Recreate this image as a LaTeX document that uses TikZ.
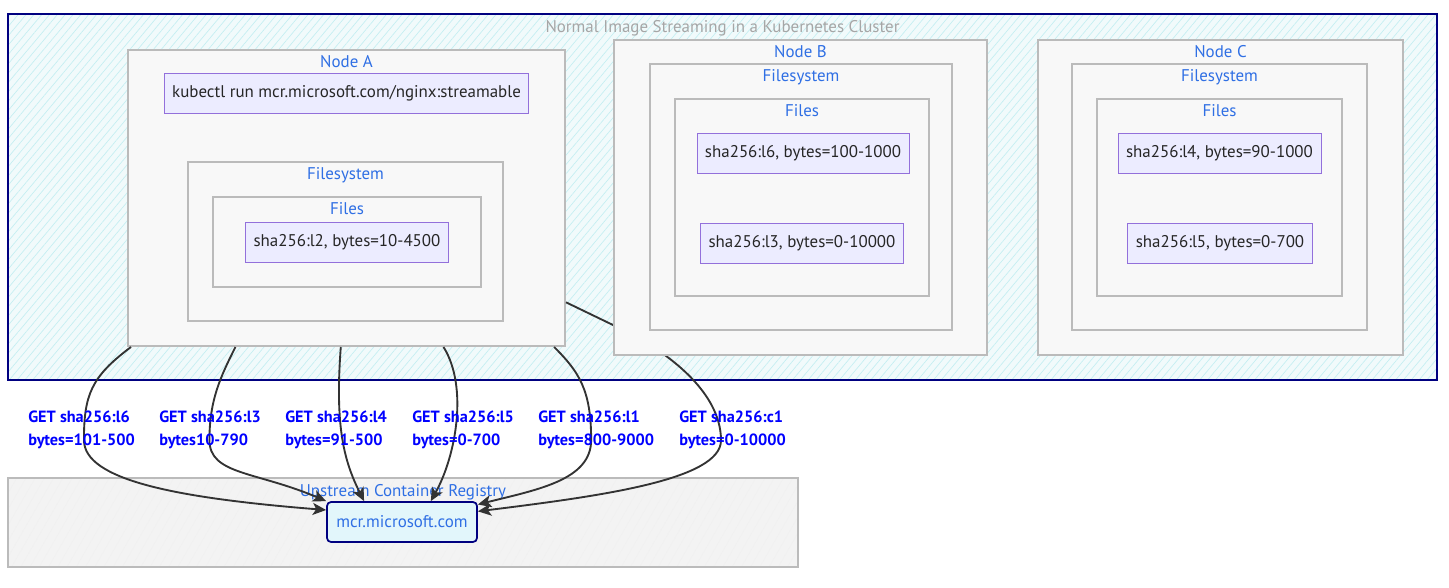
\documentclass[tikz,border=0pt]{standalone}
\usepackage{fontspec}
\setmainfont{PT Sans}
\usetikzlibrary{positioning,fit,calc,arrows.meta,patterns.meta}

\definecolor{clusterline}{HTML}{000080}
\definecolor{clusterfill}{HTML}{F1FAFB}
\definecolor{hatchcyan}{HTML}{C4EEF2}
\definecolor{hostline}{HTML}{BBBBBB}
\definecolor{hostfill}{HTML}{F8F8F8}
\definecolor{regfill}{HTML}{F3F3F3}
\definecolor{layerline}{HTML}{9370DB}
\definecolor{layerfill}{HTML}{ECECFF}
\definecolor{titleblue}{HTML}{2F6FE4}
\definecolor{edgeblue}{HTML}{0000FF}
\definecolor{mcrfill}{HTML}{E2F6FB}
\definecolor{arrowgray}{HTML}{333333}

\tikzset{
    cluster/.style={draw=clusterline, line width=1.2pt, inner sep=0pt,
        preaction={fill=clusterfill},
        pattern={Lines[angle=50,distance=4.5pt,line width=0.5pt]}, pattern color=hatchcyan},
    registry/.style={draw=hostline, line width=1.5pt, inner sep=0pt,
        preaction={fill=regfill},
        pattern={Lines[angle=60,distance=6pt,line width=0.3pt]}, pattern color=black!6},
    hostbox/.style={draw=hostline, line width=1.5pt, fill=hostfill, inner sep=0pt},
    layerbox/.style={draw=layerline, line width=0.6pt, fill=layerfill,
        inner xsep=6pt, minimum height=30pt, text=black!85},
    mcrbox/.style={draw=clusterline, line width=1.3pt, fill=mcrfill, rounded corners=3pt,
        minimum width=112.5pt, minimum height=30pt, text=titleblue},
    grouptitle/.style={text=titleblue, inner sep=0pt},
    clustertitle/.style={text=black!35, inner sep=0pt},
    edgelabel/.style={text=edgeblue, anchor=north west, align=left, inner sep=0pt,
        font=\bfseries\fontsize{12.2}{17.25}\selectfont},
    fetch/.style={draw=arrowgray, line width=1.4pt,
        -{Stealth[length=10pt,width=9pt,inset=2.5pt]}},
}

\begin{document}
\begin{tikzpicture}[x=0.75pt, y=-0.75pt, font=\fontsize{12.7}{14}\selectfont]
\useasboundingbox (0,0) rectangle (1449,587);

% ---- cluster and registry ----
\node[cluster, fit={(8,14) (1437,380)}] (cluster) {};
\node[clustertitle, below=5pt of cluster.north] (clustertitle) {Normal Image Streaming in a Kubernetes Cluster};

\node[registry, fit={(8,478) (798,567)}] (registry) {};
\node[grouptitle, below=4.5pt of registry.north] (registrytitle) {Upstream Container Registry};
\node[mcrbox] (mcr) at (402,522) {mcr.microsoft.com};

% ---- Node A ----
\node[hostbox, fit={(128,50) (565,346)}] (nodeA) {};
\node[grouptitle, below=5pt of nodeA.north] (nodeAtitle) {Node A};
\node[layerbox] (kubectl) at (346.5,93) {kubectl run mcr.microsoft.com/nginx:streamable};
\node[hostbox, fit={(188,162) (503,321)}] (fsA) {};
\node[grouptitle, below=5pt of fsA.north] (fsAtitle) {Filesystem};
\node[hostbox, fit={(213,197) (481,287)}] (filesA) {};
\node[grouptitle, below=5pt of filesA.north] (filesAtitle) {Files};
\node[layerbox] (l2) at (347,242) {sha256:l2, bytes=10-4500};

% runs behind Node B
\draw[fetch] ($(nodeA.north east)!0.85!(nodeA.south east)$) -- ++(58,28)
    .. controls +(40,20) and +(0,-50) .. ++(97,110)
    .. controls +(0,40) and +(120,-15) .. (mcr.8);

% ---- Node B ----
\node[hostbox, fit={(614,40) (987,355)}] (nodeB) {};
\node[grouptitle, below=5pt of nodeB.north] (nodeBtitle) {Node B};
\node[hostbox, fit={(650,64) (952,330)}] (fsB) {};
\node[grouptitle, below=5pt of fsB.north] (fsBtitle) {Filesystem};
\node[hostbox, fit={(675,99) (929,296)}] (filesB) {};
\node[grouptitle, below=5pt of filesB.north] (filesBtitle) {Files};
\node[layerbox] (l6) at (803,153.5) {sha256:l6, bytes=100-1000};
\node[layerbox] (l3) at (802,243) {sha256:l3, bytes=0-10000};

% ---- Node C ----
\node[hostbox, fit={(1038,40) (1403,355)}] (nodeC) {};
\node[grouptitle, below=5pt of nodeC.north] (nodeCtitle) {Node C};
\node[hostbox, fit={(1072,64) (1367,330)}] (fsC) {};
\node[grouptitle, below=5pt of fsC.north] (fsCtitle) {Filesystem};
\node[hostbox, fit={(1097,99) (1342,296)}] (filesC) {};
\node[grouptitle, below=5pt of filesC.north] (filesCtitle) {Files};
\node[layerbox] (l4) at (1219.5,153.5) {sha256:l4, bytes=90-1000};
\node[layerbox] (l5) at (1220,243) {sha256:l5, bytes=0-700};

% ---- range requests ----
\draw[fetch] ($(nodeA.south west)!0.009!(nodeA.south east)$)
    .. controls +(-40,30) and +(0,-45) .. ++(-47,93)
    .. controls +(0,40) and +(-150,-12) .. (mcr.171);
\draw[fetch] ($(nodeA.south west)!0.247!(nodeA.south east)$)
    .. controls +(-15,30) and +(0,-40) .. ++(-26,93)
    .. controls +(0,35) and +(-70,-30) .. (mcr.north west);
\draw[fetch] ($(nodeA.south west)!0.487!(nodeA.south east)$)
    .. controls +(-6,80) and +(-20,-40) .. ($(mcr.north west)!0.25!(mcr.north east)$);
\draw[fetch] ($(nodeA.south west)!0.721!(nodeA.south east)$)
    .. controls +(25,40) and +(25,-45) .. ($(mcr.north west)!0.69!(mcr.north east)$);
\draw[fetch] ($(nodeA.south west)!0.973!(nodeA.south east)$)
    .. controls +(25,25) and +(0,-50) .. ++(37,93)
    .. controls +(0,40) and +(60,-15) .. (mcr.13);

\foreach \x/\hash/\range [count=\i] in {28/l6/bytes=101-500, 159/l3/bytes10-790,
    285/l4/bytes=91-500, 412/l5/bytes=0-700, 538/l1/bytes=800-9000, 679/c1/bytes=0-10000}
    \node[edgelabel] (get\i) at (\x,411) {GET sha256:\hash\\\range};

\end{tikzpicture}
\end{document}
